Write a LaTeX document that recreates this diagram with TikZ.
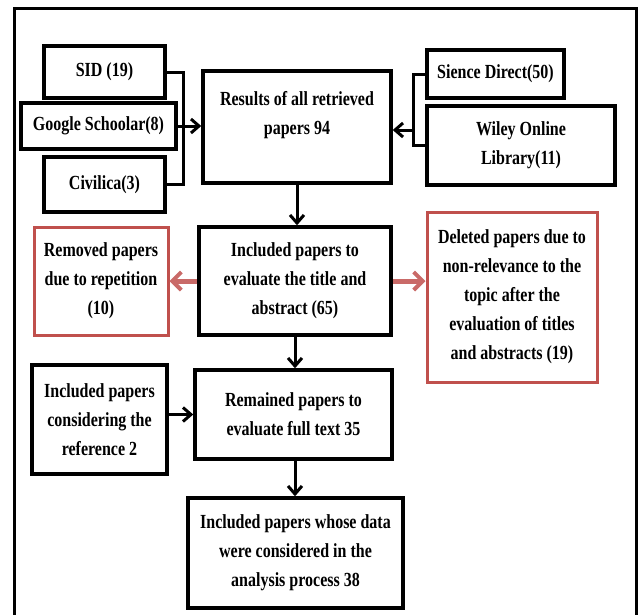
\documentclass[tikz,border=0pt]{standalone}
\usepackage{fontspec}
\setmainfont[FakeStretch=0.8]{Liberation Serif}
\usetikzlibrary{arrows.meta}
\definecolor{redline}{RGB}{192,80,77}
\tikzset{every picture/.style={line width=0.75pt}}
\tikzset{
  box/.style={draw, line width=3.5pt, inner sep=0pt, align=center,
    font={\fontsize{20}{29}\selectfont\bfseries}},
  redbox/.style={box, draw=redline, line width=3pt},
  arr/.style={line width=3pt, -{Straight Barb[length=8pt,width=14pt,line width=3pt]}},
  redarr/.style={line width=5pt, draw=redline!85, -{Straight Barb[length=9pt,width=18pt,line width=4pt]}},
  bracket/.style={line width=3pt}
}

\begin{document}
\begin{tikzpicture}[x=1pt,y=1pt,yscale=-1,xscale=1]
        \useasboundingbox (0,0) rectangle (638,614);

        %Shape: Frame
        \draw [line width=3pt]  (14,620) -- (14,8) -- (636,8) -- (636,620) ;

        % Text Node
        \node [box, minimum width=121, minimum height=52] (sid) at (104.5,72) {SID (19)};
        % Text Node
        \node [box, minimum width=155, minimum height=46] (google) at (98.5,126) {Google Schoolar(8)};
        % Text Node
        \node [box, minimum width=121, minimum height=55] (civilica) at (104.5,184.5) {Civilica(3)};
        % Text Node
        \node [box, minimum width=188, minimum height=112] (results) at (297,127) {Results of all retrieved\\papers 94\\\mbox{}};
        % Text Node
        \node [box, minimum width=137, minimum height=48] (sience) at (495.5,74) {Sience Direct(50)};
        % Text Node
        \node [box, minimum width=188, minimum height=79] (wiley) at (521,145.5) {Wiley Online\\Library(11)};
        % Text Node
        \node [box, minimum width=192, minimum height=108] (included) at (295,281) {Included papers to\\evaluate the title and\\abstract (65)};
        % Text Node
        \node [redbox, minimum width=134, minimum height=108] (removed) at (101,281) {Removed papers\\due to repetition\\(10)};
        % Text Node
        \node [redbox, minimum width=170, minimum height=170] (deleted) at (512,297) {Deleted papers due to\\non-relevance to the\\topic after the\\evaluation of titles\\and abstracts (19)};
        % Text Node
        \node [box, minimum width=135, minimum height=109] (consider) at (99.5,419.5) {Included papers\\considering the\\reference 2};
        % Text Node
        \node [box, minimum width=197, minimum height=89] (remained) at (293.5,414.5) {Remained papers to\\evaluate full text 35};
        % Text Node
        \node [box, minimum width=215, minimum height=110] (final) at (295.5,553) {Included papers whose data\\were considered in the\\analysis process 38};

        %Straight Lines
        \coordinate (lbr) at (183,126);
        \coordinate (rbr) at (413,130);
        \draw [bracket]  (sid.east) -| (lbr) |- (civilica.east) ;
        \draw [bracket]  (sience.west) -| (rbr) |- (wiley.west) ;
        \draw [arr]  (google.east) -- (results.west |- google.east) ;
        \draw [arr]  (rbr) -- (results.east |- rbr) ;
        \draw [arr]  (results.south) -- (results.south |- included.north) ;
        \draw [redarr]  (included.west) -- (removed.east) ;
        \draw [redarr]  (included.east) -- (deleted.west |- included.east) ;
        \draw [arr]  (included.south) -- (included.south |- remained.north) ;
        \draw [arr]  (consider.east |- remained.west) -- (remained.west) ;
        \draw [arr]  (included.south |- remained.south) -- (included.south |- final.north) ;
\end{tikzpicture}
\end{document}
